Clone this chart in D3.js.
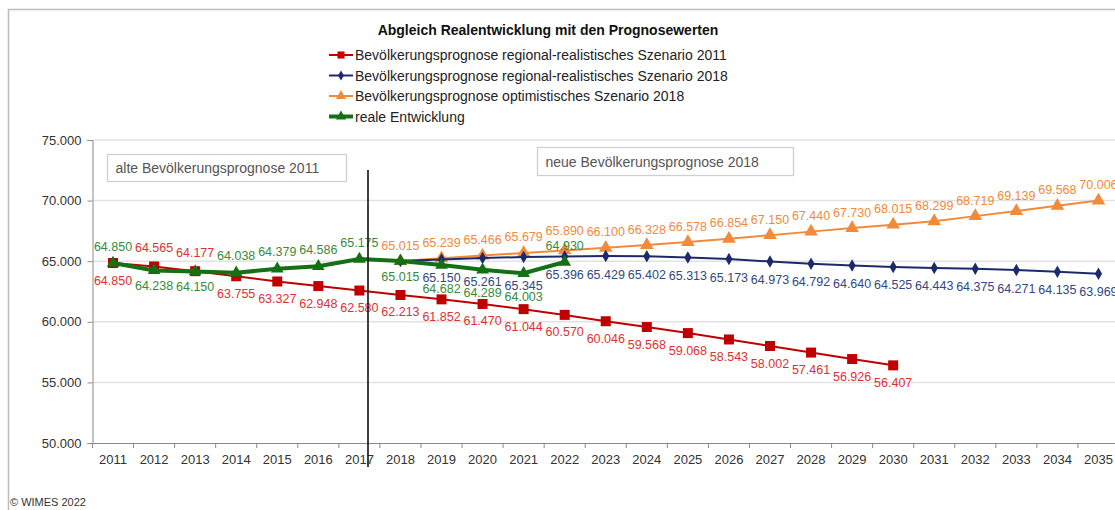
<!DOCTYPE html>
<html>
<head>
<meta charset="utf-8">
<script src="https://cdn.jsdelivr.net/npm/d3@7"></script>
<style>
  html, body { margin: 0; padding: 0; background: #fff; }
  svg { display: block; font-family: "Liberation Sans", Arial, sans-serif; }
</style>
</head>
<body>
<svg id="chart" width="1115" height="510"></svg>
<script>
// Jahre (Kategorien)
const years = d3.range(2011, 2036).map(String);

// Prognose 2011, regional-realistisch (2011-2030)
const prog2011 = [64850, 64565, 64177, 63755, 63327, 62948, 62580, 62213, 61852, 61470,
  61044, 60570, 60046, 59568, 59068, 58543, 58002, 57461, 56926, 56407];
// Prognose 2018, regional-realistisch (2018-2035)
const prog2018 = [65015, 65150, 65261, 65345, 65396, 65429, 65402, 65313, 65173, 64973,
  64792, 64640, 64525, 64443, 64375, 64271, 64135, 63969];
// Prognose 2018, optimistisch (2018-2035)
const opt2018 = [65015, 65239, 65466, 65679, 65890, 66100, 66328, 66578, 66854, 67150,
  67440, 67730, 68015, 68299, 68719, 69139, 69568, 70006];
// reale Entwicklung (2011-2022)
const real = [64850, 64238, 64150, 64038, 64379, 64586, 65175, 65015, 64682, 64289, 64003, 64930];

const yTicks = [50000, 55000, 60000, 65000, 70000, 75000];
const legendLabels = [
  "Bevölkerungsprognose regional-realistisches Szenario 2011",
  "Bevölkerungsprognose regional-realistisches Szenario 2018",
  "Bevölkerungsprognose optimistisches Szenario 2018",
  "reale Entwicklung",
];

const fmt = (v) => d3.format(",.3f")(v / 1000).replace(",", "");
const svg = d3.select("#chart");

const x = d3.scaleBand().domain(years).range([92.5, 1119]);
const y = d3.scaleLinear().domain([50000, 75000]).range([443, 140]);
const cx = (yr) => x(yr) + x.bandwidth() / 2;

function toPoints(startYear, values) {
  const i0 = years.indexOf(String(startYear));
  return values.map((v, i) => ({ year: years[i0 + i], v }));
}

const sRed = toPoints(2011, prog2011);
const sBlue = toPoints(2018, prog2018);
const sOrange = toPoints(2018, opt2018);
const sGreen = toPoints(2011, real);
const byYear = (s) => new Map(s.map((d) => [d.year, d.v]));
const mRed = byYear(sRed), mBlue = byYear(sBlue), mGreen = byYear(sGreen);

const C = {
  red: "#c00000", redText: "#e0312f",
  blue: "#1c2a6b", blueText: "#34477f",
  orange: "#f28a3a", orangeText: "#f28a3a",
  green: "#137015", greenText: "#3a8a3a",
};

// Rahmen
svg.append("path").attr("d", "M8.5,510 V9.5 H1115").attr("fill", "none").attr("stroke", "#bdbdbd").attr("stroke-width", 1.5);

// Titel
svg.append("text").attr("x", 548).attr("y", 35).attr("text-anchor", "middle")
  .attr("font-size", 14).attr("font-weight", "bold").attr("fill", "#111")
  .text("Abgleich Realentwicklung mit den Prognosewerten");

// Legende
const legendSeries = [
  { color: C.red, width: 2, sym: d3.symbolSquare, size: 50 },
  { color: C.blue, width: 2, sym: d3.symbolDiamond, size: 30 },
  { color: C.orange, width: 2, sym: d3.symbolTriangle, size: 45 },
  { color: C.green, width: 4, sym: d3.symbolTriangle, size: 45 },
];
const lg = svg.append("g");
legendSeries.forEach((s, i) => {
  const ly = 55 + i * 20.5;
  lg.append("line").attr("x1", 329).attr("x2", 353).attr("y1", ly).attr("y2", ly)
    .attr("stroke", s.color).attr("stroke-width", s.width);
  lg.append("path").attr("d", d3.symbol(s.sym, s.size)()).attr("transform", `translate(341,${ly})`).attr("fill", s.color);
  lg.append("text").attr("x", 355).attr("y", ly).attr("dy", "0.36em")
    .attr("font-size", 14).attr("fill", "#222").text(legendLabels[i]);
});

// Gitternetz
svg.append("g").selectAll("line").data(yTicks.slice(1)).enter().append("line")
  .attr("x1", 93).attr("x2", 1115).attr("y1", (d) => y(d)).attr("y2", (d) => y(d))
  .attr("stroke", "#e2e2e2").attr("stroke-width", 1.5);

// Achsen
const yAxis = svg.append("g").attr("transform", "translate(92.5,0)")
  .call(d3.axisLeft(y).tickValues(yTicks).tickSize(5).tickFormat(fmt));
yAxis.select(".domain").attr("stroke", "#8a8a8a");
yAxis.selectAll(".tick line").attr("stroke", "#8a8a8a");
yAxis.selectAll("text").attr("font-size", 13).attr("fill", "#333").attr("font-family", "Liberation Sans, Arial, sans-serif").attr("x", -11);

const xAxis = svg.append("g").attr("transform", "translate(0,443)")
  .call(d3.axisBottom(x).tickSize(0).tickPadding(12));
xAxis.select(".domain").attr("stroke", "#8a8a8a");
xAxis.selectAll("text").attr("font-size", 13).attr("fill", "#333").attr("font-family", "Liberation Sans, Arial, sans-serif");
svg.append("g").selectAll("line").data(years).enter().append("line")
  .attr("x1", (d) => x(d)).attr("x2", (d) => x(d)).attr("y1", 443).attr("y2", 448)
  .attr("stroke", "#8a8a8a");

// Textboxen
function textBox(bx, by, bw, bh, label) {
  svg.append("rect").attr("x", bx).attr("y", by).attr("width", bw).attr("height", bh)
    .attr("fill", "#fff").attr("stroke", "#cfcfcf").attr("stroke-width", 1.3);
  svg.append("text").attr("x", bx + 8).attr("y", by + bh / 2).attr("dy", "0.36em")
    .attr("font-size", 14).attr("fill", "#555").text(label);
}
textBox(107.5, 154.5, 239, 27, "alte Bevölkerungsprognose 2011");
textBox(537.5, 147.5, 256, 28, "neue Bevölkerungsprognose 2018");

// Linien
const line = d3.line().x((d) => cx(d.year)).y((d) => y(d.v));
function drawSeries(data, color, width, sym, size) {
  svg.append("path").datum(data).attr("d", line).attr("fill", "none")
    .attr("stroke", color).attr("stroke-width", width).attr("stroke-linejoin", "round");
  svg.append("g").selectAll("path").data(data).enter().append("path")
    .attr("d", d3.symbol(sym, size)())
    .attr("transform", (d) => `translate(${cx(d.year)},${y(d.v)})`)
    .attr("fill", color);
}
drawSeries(sRed, C.red, 2, d3.symbolSquare, 100);
drawSeries(sOrange, C.orange, 2, d3.symbolTriangle, 80);
drawSeries(sBlue, C.blue, 2, d3.symbolDiamond, 45);
drawSeries(sGreen, C.green, 4, d3.symbolTriangle, 70);

// Datenbeschriftungen
const labels = [];
const lastReal = sGreen[sGreen.length - 1].year;

sRed.forEach((d) => {
  const g = mGreen.get(d.year);
  const above = g !== undefined && d.v > g;
  labels.push({ year: d.year, v: d.v, cy: y(d.v) + (above ? -19 : 17), color: C.redText });
});

const blueLabelY = new Map();
sBlue.forEach((d) => {
  const g = mGreen.get(d.year);
  if (g === d.v) return;
  let cy = y(d.v) + 18;
  if (g !== undefined) cy = Math.max(cy, y(g) + 12);
  blueLabelY.set(d.year, cy);
  labels.push({ year: d.year, v: d.v, cy, color: C.blueText });
});

const greenLabelY = new Map();
sGreen.forEach((d) => {
  const r = mRed.get(d.year);
  const above = (mBlue.has(d.year) ? d.year === lastReal : d.v >= r);
  let cy = y(d.v) + (above ? -17 : 15);
  if (!above && blueLabelY.has(d.year)) cy = Math.max(cy, blueLabelY.get(d.year) + 11);
  greenLabelY.set(d.year, above ? cy : null);
  labels.push({ year: d.year, v: d.v, cy, color: C.greenText });
});

sOrange.forEach((d) => {
  let cy = y(d.v) - 16;
  const gl = greenLabelY.get(d.year);
  if (gl) cy = Math.min(cy, gl - 15);
  labels.push({ year: d.year, v: d.v, cy, color: C.orangeText });
});

svg.append("g").selectAll("text").data(labels).enter().append("text")
  .attr("x", (d) => cx(d.year)).attr("y", (d) => d.cy).attr("dy", "0.36em")
  .attr("text-anchor", "middle").attr("font-size", 12.5).attr("fill", (d) => d.color)
  .text((d) => fmt(d.v));

// Trennlinie 2017
svg.append("line").attr("x1", 368).attr("x2", 368).attr("y1", 170).attr("y2", 467)
  .attr("stroke", "#111").attr("stroke-width", 1.6);

// Quelle
svg.append("text").attr("x", 10).attr("y", 506).attr("font-size", 11).attr("fill", "#333")
  .text("© WIMES 2022");
</script>
</body>
</html>
